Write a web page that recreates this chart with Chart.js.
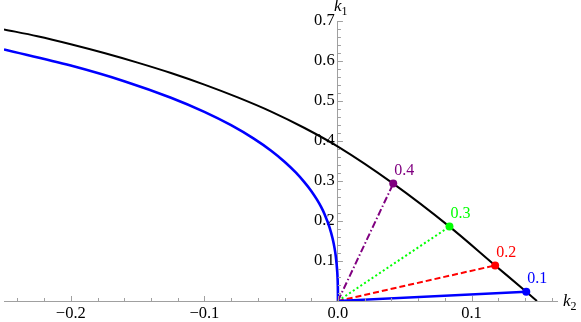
<!DOCTYPE html>
<html>
<head>
<meta charset="utf-8">
<script src="https://cdn.jsdelivr.net/npm/chart.js@4/dist/chart.umd.min.js"></script>
<style>
  body { margin: 0; background: #fff; }
  canvas { display: block; }
</style>
</head>
<body>
<canvas id="plot" width="581" height="322"></canvas>
<script>
// outer (black) curve
const outerK2 = [-0.25, -0.225, -0.2, -0.175, -0.15, -0.125, -0.1, -0.075, -0.05, -0.025, 0, 0.0414, 0.0835, 0.1177, 0.141, 0.149];
const outerK1 = [0.679, 0.662, 0.642, 0.62, 0.596, 0.57, 0.541, 0.509, 0.4735, 0.4325, 0.386, 0.2935, 0.186, 0.089, 0.023, 0];

// inner (blue) curve
const innerK2 = [-0.25, -0.2, -0.16, -0.125, -0.1, -0.08, -0.063, -0.05, -0.04, -0.0316, -0.025, -0.02, -0.0158, -0.0126, -0.01, -0.0063, -0.004, -0.0025, -0.0016, -0.001, -0.0005, -0.0002, -0.0001, -0.00002, 0];
const innerK1 = [0.629, 0.5886, 0.5495, 0.5081, 0.4728, 0.4395, 0.4059, 0.3757, 0.3482, 0.3215, 0.2966, 0.2752, 0.2539, 0.2351, 0.217, 0.1842, 0.1562, 0.1315, 0.1112, 0.0927, 0.0718, 0.0509, 0.039, 0.0201, 0];

// rays from the origin
const rayLabels = ['0.1', '0.2', '0.3', '0.4'];
const rayK2 = [0.141, 0.1177, 0.0835, 0.0414];
const rayK1 = [0.023, 0.089, 0.186, 0.2935];
const rayColors = ['rgb(0,0,255)', 'rgb(255,0,0)', 'rgb(0,255,0)', 'rgb(128,0,128)'];
const rayDashes = [[], [6, 3], [2, 2.5], [7, 2.5, 1.5, 2.5]];

// tick labels
const xTicks = [-0.2, -0.1, 0, 0.1];
const yTicks = [0.1, 0.2, 0.3, 0.4, 0.5, 0.6, 0.7];

const serif = '"Liberation Serif", "Times New Roman", serif';
const axisGray = 'rgb(160,160,160)';

const toPoints = (xs, ys) => xs.map((v, i) => ({ x: v, y: ys[i] }));

const datasets = [
    {
        data: toPoints(outerK2, outerK1),
        borderColor: '#000',
        borderWidth: 2,
        cubicInterpolationMode: 'monotone',
        pointRadius: 0,
        order: 3
    },
    {
        data: toPoints(innerK2, innerK1),
        borderColor: 'rgb(0,0,255)',
        borderWidth: 2.6,
        cubicInterpolationMode: 'monotone',
        pointRadius: 0,
        order: 2
    }
];
rayK2.forEach((k2, i) => {
    datasets.push({
        data: [{ x: 0, y: 0 }, { x: k2, y: rayK1[i] }],
        borderColor: rayColors[i],
        backgroundColor: rayColors[i],
        borderWidth: i === 0 ? 2.4 : 2,
        borderDash: rayDashes[i],
        pointRadius: c => c.dataIndex === 1 ? 4 : 0,
        pointBorderWidth: 0,
        order: 1
    });
});

// small inward ticks like Mathematica axes
const axisTicks = {
    id: 'axisTicks',
    afterDraw(chart) {
        const { ctx, scales: { x, y } } = chart;
        const ox = x.getPixelForValue(0);
        const oy = y.getPixelForValue(0);
        ctx.save();
        ctx.strokeStyle = axisGray;
        ctx.lineWidth = 1;
        ctx.beginPath();
        for (let i = -12; i <= 8; i++) {
            const px = Math.round(x.getPixelForValue(i * 0.02)) + 0.5;
            const len = i % 5 === 0 ? 5 : 3;
            ctx.moveTo(px, oy);
            ctx.lineTo(px, oy - len);
        }
        for (let i = 1; i <= 35; i++) {
            const py = Math.round(y.getPixelForValue(i * 0.02)) + 0.5;
            const len = i % 5 === 0 ? 5 : 3;
            ctx.moveTo(ox, py);
            ctx.lineTo(ox + len, py);
        }
        ctx.stroke();

        // axis titles k2, k1
        const title = (px, py, sub) => {
            ctx.fillStyle = '#000';
            ctx.textBaseline = 'alphabetic';
            ctx.textAlign = 'left';
            ctx.font = 'italic 17px ' + serif;
            ctx.fillText('k', px, py);
            const w = ctx.measureText('k').width;
            ctx.font = '12px ' + serif;
            ctx.fillText(sub, px + w, py + 4);
        };
        title(x.right + 6, oy + 5, '2');
        title(ox - 4, y.top - 10, '1');

        // ray end labels
        ctx.font = '16px ' + serif;
        ctx.textAlign = 'left';
        ctx.textBaseline = 'middle';
        rayLabels.forEach((t, i) => {
            ctx.fillStyle = rayColors[i];
            ctx.fillText(t, x.getPixelForValue(rayK2[i]) + 1, y.getPixelForValue(rayK1[i]) - 13);
        });
        ctx.restore();
    }
};

const fmt = v => (v < 0 ? '\u2212' : '') + Math.abs(v).toFixed(1);

new Chart(document.getElementById('plot'), {
    type: 'scatter',
    data: { datasets: datasets },
    options: {
        responsive: false,
        animation: false,
        showLine: true,
        layout: { padding: { left: 0, top: 21, right: 24, bottom: 21 } },
        scales: {
            x: {
                type: 'linear',
                min: -0.25,
                max: 0.164,
                position: { y: 0 },
                afterBuildTicks: s => { s.ticks = xTicks.map(v => ({ value: v })); },
                grid: { display: true, drawOnChartArea: false, drawTicks: false },
                border: { color: axisGray, width: 1 },
                ticks: {
                    padding: 3,
                    color: '#000',
                    maxRotation: 0,
                    font: { family: serif, size: 16.5 },
                    callback: v => fmt(v)
                }
            },
            y: {
                type: 'linear',
                min: 0,
                max: 0.7,
                position: { x: 0 },
                afterBuildTicks: s => { s.ticks = yTicks.map(v => ({ value: v })); },
                grid: { display: true, drawOnChartArea: false, drawTicks: false },
                border: { color: axisGray, width: 1 },
                ticks: {
                    padding: 5,
                    color: '#000',
                    font: { family: serif, size: 16.5 },
                    callback: v => fmt(v) + '\u2009'
                }
            }
        },
        plugins: {
            legend: { display: false },
            tooltip: { enabled: false }
        }
    },
    plugins: [axisTicks]
});
</script>
</body>
</html>
